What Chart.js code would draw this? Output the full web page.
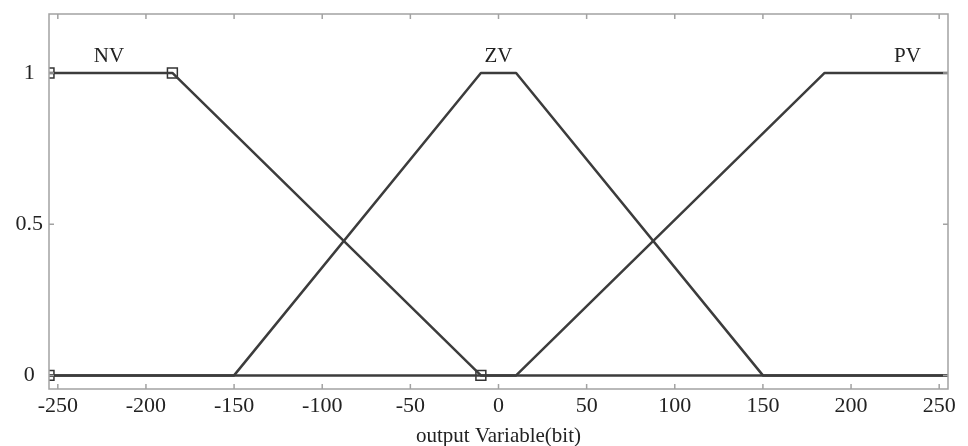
<!DOCTYPE html>
<html>
<head>
<meta charset="utf-8">
<script src="https://cdn.jsdelivr.net/npm/chart.js@4.4.1/dist/chart.umd.min.js"></script>
<style>
  html, body { margin: 0; padding: 0; background: #fff; }
  #wrap { width: 968px; height: 446px; position: relative; }
</style>
</head>
<body>
<div id="wrap"><canvas id="c"></canvas></div>
<script>
// Axis ranges and tick labels
const xRange = [-255, 255];
const yRange = [-0.045, 1.195];
const xTicks = [-250, -200, -150, -100, -50, 0, 50, 100, 150, 200, 250];
const yTicks = [0, 0.5, 1];
const yTickLabels = ['0', '0.5', '1'];

// Membership functions (trapezoids) over the output variable
const nvX = [-255, -185, -10, 255];
const nvY = [1, 1, 0, 0];
const zvX = [-255, -150, -10, 10, 150, 255];
const zvY = [0, 0, 1, 1, 0, 0];
const pvX = [-255, 10, 185, 255];
const pvY = [0, 0, 1, 1];

// Vertices of the selected function (NV)
const vertX = [-255, -255, -185, -10];
const vertY = [0, 1, 1, 0];

// Function names and where they are written
const mfNames = ['NV', 'ZV', 'PV'];
const mfLabelX = [-221, 0, 232];
const mfLabelY = [1.055, 1.055, 1.055];

const toPoints = (xs, ys) => xs.map((x, i) => ({ x: x, y: ys[i] }));

const SERIF = "'Liberation Serif', 'Times New Roman', serif";
const LINE = '#3c3c3c';
const FRAME = '#a2a2a2';
const TEXT = '#222';

// Box around the axes, inward tick marks and function names
const framePlugin = {
  id: 'frame',
  afterDatasetsDraw(chart) {
    const { ctx, chartArea: a, scales } = chart;
    ctx.save();
    ctx.strokeStyle = FRAME;
    ctx.lineWidth = 1.5;
    ctx.strokeRect(a.left, a.top, a.right - a.left, a.bottom - a.top);
    ctx.beginPath();
    scales.x.ticks.forEach(t => {
      const px = scales.x.getPixelForValue(t.value);
      ctx.moveTo(px, a.bottom); ctx.lineTo(px, a.bottom - 5);
      ctx.moveTo(px, a.top); ctx.lineTo(px, a.top + 5);
    });
    scales.y.ticks.forEach(t => {
      const py = scales.y.getPixelForValue(t.value);
      ctx.moveTo(a.left, py); ctx.lineTo(a.left + 5, py);
      ctx.moveTo(a.right, py); ctx.lineTo(a.right - 5, py);
    });
    ctx.stroke();

    ctx.fillStyle = TEXT;
    ctx.font = '21px ' + SERIF;
    ctx.textAlign = 'center';
    ctx.textBaseline = 'middle';
    mfNames.forEach((name, i) => {
      ctx.fillText(name, scales.x.getPixelForValue(mfLabelX[i]), scales.y.getPixelForValue(mfLabelY[i]));
    });
    ctx.restore();
  }
};

const lineSet = (label, xs, ys) => ({
  label: label,
  data: toPoints(xs, ys),
  showLine: true,
  borderColor: LINE,
  borderWidth: 2.5,
  pointRadius: 0,
  tension: 0,
  borderJoinStyle: 'round'
});

new Chart(document.getElementById('c'), {
  type: 'scatter',
  data: {
    datasets: [
      lineSet('NV', nvX, nvY),
      lineSet('ZV', zvX, zvY),
      lineSet('PV', pvX, pvY),
      {
        label: 'NV vertices',
        data: toPoints(vertX, vertY),
        showLine: false,
        pointStyle: 'rect',
        pointRadius: 7,
        pointBorderWidth: 1.5,
        pointBorderColor: '#333',
        pointBackgroundColor: 'rgba(0,0,0,0)',
        clip: 0
      }
    ]
  },
  options: {
    responsive: true,
    maintainAspectRatio: false,
    animation: false,
    layout: { padding: { top: 14, right: 20, left: 0, bottom: 0 } },
    plugins: {
      legend: { display: false },
      tooltip: { enabled: false }
    },
    scales: {
      x: {
        type: 'linear',
        min: xRange[0],
        max: xRange[1],
        border: { display: false },
        grid: { display: false, drawTicks: false },
        afterBuildTicks: s => { s.ticks = xTicks.map(v => ({ value: v })); },
        afterFit: s => { s.height = 57; s.paddingLeft = 0; s.paddingRight = 0; },
        ticks: {
          padding: 4,
          maxRotation: 0,
          autoSkip: false,
          color: TEXT,
          font: { family: SERIF, size: 22 },
          callback: v => String(v)
        },
        title: {
          display: true,
          text: 'output Variable(bit)',
          color: TEXT,
          padding: 0,
          font: { family: SERIF, size: 21, lineHeight: 0.9 }
        }
      },
      y: {
        type: 'linear',
        min: yRange[0],
        max: yRange[1],
        border: { display: false },
        grid: { display: false, drawTicks: false },
        afterBuildTicks: s => { s.ticks = yTicks.map(v => ({ value: v })); },
        afterFit: s => { s.width = 49; s.paddingTop = 0; s.paddingBottom = 0; },
        ticks: {
          padding: 6,
          crossAlign: 'center',
          color: TEXT,
          font: { family: SERIF, size: 22 },
          callback: (v) => yTickLabels[yTicks.indexOf(v)]
        }
      }
    }
  },
  plugins: [framePlugin]
});
</script>
</body>
</html>
